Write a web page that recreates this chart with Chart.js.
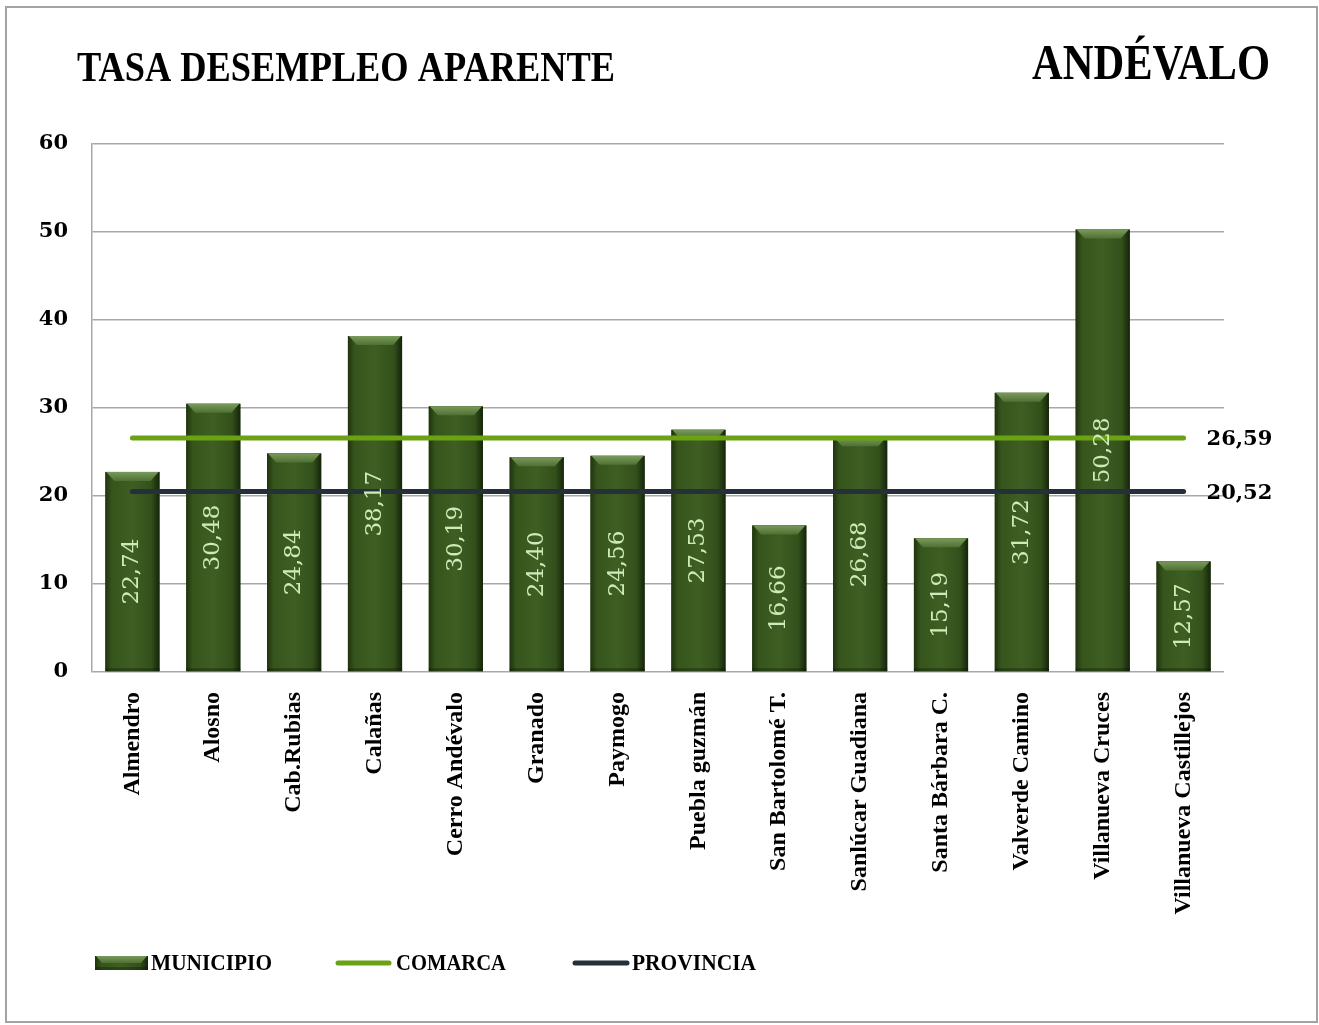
<!DOCTYPE html>
<html>
<head>
<meta charset="utf-8">
<style>
  html, body { margin: 0; padding: 0; background: #fff; }
</style>
<script src="https://cdn.jsdelivr.net/npm/chart.js@4.4.1/dist/chart.umd.min.js"></script>
</head>
<body>
<canvas id="myChart" width="1319" height="1025"></canvas>
<script>
const municipios = [
  "Almendro", "Alosno", "Cab.Rubias", "Calañas", "Cerro Andévalo", "Granado",
  "Paymogo", "Puebla guzmán", "San Bartolomé T.", "Sanlúcar Guadiana",
  "Santa Bárbara C.", "Valverde Camino", "Villanueva Cruces", "Villanueva Castillejos"
];
const tasaMunicipio = [22.74, 30.48, 24.84, 38.17, 30.19, 24.40, 24.56, 27.53, 16.66, 26.68, 15.19, 31.72, 50.28, 12.57];
const tasaComarca = 26.59;
const tasaProvincia = 20.52;
const yMin = 0, yMax = 60, yStep = 10;

const serif = "'Liberation Serif', 'DejaVu Serif', serif";
const serif2 = "'DejaVu Serif', serif";

function fmt(v) {
  return v.toFixed(2).replace(".", ",");
}

// texto ajustado a un ancho concreto (fuente estrecha tipo Cambria)
function drawFit(ctx, text, x, y, width, font) {
  ctx.save();
  ctx.font = font;
  const w = ctx.measureText(text).width;
  ctx.translate(x, y);
  ctx.scale(width / w, 1);
  ctx.fillText(text, 0, 0);
  ctx.restore();
}

function drawBarBody(ctx, left, right, top, bottom) {
  const g = ctx.createLinearGradient(left, 0, right, 0);
  g.addColorStop(0, "#1f330e");
  g.addColorStop(0.12, "#36551c");
  g.addColorStop(0.5, "#3e5e23");
  g.addColorStop(0.85, "#33501b");
  g.addColorStop(1, "#15240a");
  ctx.fillStyle = g;
  ctx.fillRect(left, top, right - left, bottom - top);
  const b = Math.min(9, (bottom - top) / 2);
  const gt = ctx.createLinearGradient(0, top, 0, top + b);
  gt.addColorStop(0, "#789a5a");
  gt.addColorStop(1, "#4f7033");
  ctx.fillStyle = gt;
  ctx.beginPath();
  ctx.moveTo(left + 1, top);
  ctx.lineTo(right - 1, top);
  ctx.lineTo(right - b, top + b);
  ctx.lineTo(left + b, top + b);
  ctx.closePath();
  ctx.fill();
  ctx.fillStyle = "rgba(10,20,4,0.35)";
  ctx.fillRect(left, bottom - 3, right - left, 3);
}

const framePlugin = {
  id: "frame",
  beforeDraw(chart) {
    const ctx = chart.ctx;
    ctx.save();
    ctx.fillStyle = "#fff";
    ctx.fillRect(0, 0, chart.width, chart.height);
    ctx.strokeStyle = "#a3a3a3";
    ctx.lineWidth = 2;
    ctx.strokeRect(6, 7, chart.width - 8, chart.height - 10);
    ctx.restore();
  },
  afterDraw(chart) {
    const ctx = chart.ctx;
    ctx.save();
    ctx.fillStyle = "#000";
    ctx.textBaseline = "alphabetic";
    drawFit(ctx, "TASA DESEMPLEO APARENTE", 77, 81, 538, "bold 43px " + serif);
    drawFit(ctx, "ANDÉVALO", 1032, 79, 238, "bold 51px " + serif);

    // leyenda
    const ly = 963;
    drawBarBody(ctx, 95, 148, ly - 7, ly + 7);
    ctx.lineCap = "round";
    ctx.lineWidth = 5;
    ctx.strokeStyle = "#6ba213";
    ctx.beginPath(); ctx.moveTo(338, ly); ctx.lineTo(389, ly); ctx.stroke();
    ctx.strokeStyle = "#26303b";
    ctx.beginPath(); ctx.moveTo(575, ly); ctx.lineTo(627, ly); ctx.stroke();
    ctx.fillStyle = "#000";
    ctx.textBaseline = "middle";
    drawFit(ctx, "MUNICIPIO", 151, ly + 1, 121, "bold 24px " + serif);
    drawFit(ctx, "COMARCA", 396, ly + 1, 110, "bold 24px " + serif);
    drawFit(ctx, "PROVINCIA", 632, ly + 1, 124, "bold 24px " + serif);
    ctx.restore();
  }
};

const barStylePlugin = {
  id: "barStyle",
  afterDatasetDraw(chart, args) {
    if (args.index !== 0) return;
    const ctx = chart.ctx;
    ctx.save();
    args.meta.data.forEach((bar) => {
      const p = bar.getProps(["x", "y", "width", "base"], true);
      drawBarBody(ctx, p.x - p.width / 2, p.x + p.width / 2, p.y, p.base);
    });
    ctx.restore();
  }
};

const valueLabelsPlugin = {
  id: "valueLabels",
  afterDatasetsDraw(chart) {
    const ctx = chart.ctx;
    ctx.save();
    // valores dentro de las barras
    const barMeta = chart.getDatasetMeta(0);
    ctx.font = "23px " + serif2;
    ctx.fillStyle = "#cdebb8";
    ctx.textAlign = "center";
    ctx.textBaseline = "middle";
    barMeta.data.forEach((bar, i) => {
      const p = bar.getProps(["x", "y", "base"], true);
      ctx.save();
      ctx.translate(p.x, (p.y + p.base) / 2);
      ctx.rotate(-Math.PI / 2);
      ctx.fillText(fmt(tasaMunicipio[i]), 0, 0);
      ctx.restore();
    });
    // etiquetas al final de las lineas
    ctx.font = "bold 21px " + serif2;
    ctx.fillStyle = "#000";
    ctx.textAlign = "left";
    [1, 2].forEach((di) => {
      const meta = chart.getDatasetMeta(di);
      const last = meta.data[meta.data.length - 1];
      const v = chart.data.datasets[di].data[meta.data.length - 1].y;
      ctx.fillText(fmt(v), last.x + 23, last.y + 2);
    });
    ctx.restore();
  }
};

const first = municipios[0];
const last = municipios[municipios.length - 1];

new Chart(document.getElementById("myChart"), {
  data: {
    labels: municipios,
    datasets: [
      {
        type: "bar",
        label: "MUNICIPIO",
        data: tasaMunicipio,
        backgroundColor: "#3a5a1f",
        barPercentage: 0.67,
        categoryPercentage: 1,
        order: 3
      },
      {
        type: "line",
        label: "COMARCA",
        data: [{ x: first, y: tasaComarca }, { x: last, y: tasaComarca }],
        borderColor: "#6ba213",
        borderWidth: 5,
        borderCapStyle: "round",
        pointRadius: 0,
        order: 2
      },
      {
        type: "line",
        label: "PROVINCIA",
        data: [{ x: first, y: tasaProvincia }, { x: last, y: tasaProvincia }],
        borderColor: "#26303b",
        borderWidth: 5,
        borderCapStyle: "round",
        pointRadius: 0,
        order: 1
      }
    ]
  },
  options: {
    responsive: false,
    animation: false,
    devicePixelRatio: 1,
    layout: { padding: { left: 20, right: 95, top: 144, bottom: 80 } },
    plugins: {
      legend: { display: false },
      tooltip: { enabled: false }
    },
    scales: {
      x: {
        grid: { display: false },
        border: { display: false },
        ticks: {
          maxRotation: 90,
          minRotation: 90,
          padding: 12,
          color: "#000",
          font: { family: serif, weight: "bold", size: 24 }
        },
        afterFit(scale) { scale.height = 273; }
      },
      y: {
        min: yMin,
        max: yMax,
        ticks: {
          stepSize: yStep,
          padding: 24,
          color: "#000",
          font: { family: serif2, weight: "bold", size: 21 }
        },
        grid: { color: "#a8a8a8", lineWidth: 1.5, drawTicks: false },
        border: { display: true, color: "#a8a8a8", width: 1.5 },
        afterFit(scale) { scale.width = 72; }
      }
    }
  },
  plugins: [framePlugin, barStylePlugin, valueLabelsPlugin]
});
</script>
</body>
</html>
